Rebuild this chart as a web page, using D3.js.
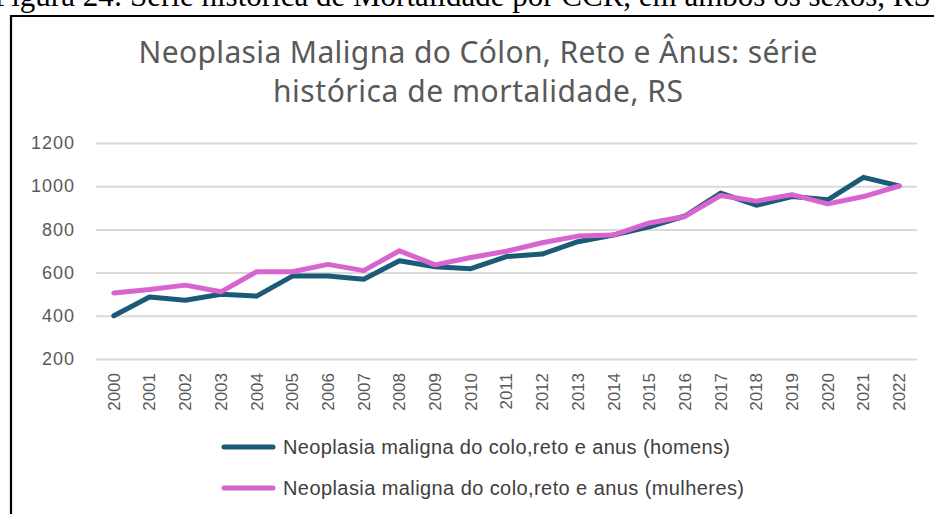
<!DOCTYPE html>
<html lang="pt">
<head>
<meta charset="UTF-8">
<title>Neoplasia Maligna do Cólon, Reto e Ânus</title>
<script src="https://cdnjs.cloudflare.com/ajax/libs/d3/7.8.5/d3.min.js"></script>
<style>
  body { margin: 0; background: #fff; }
  svg { display: block; }
</style>
</head>
<body>
<svg id="chart" width="934" height="514"></svg>
<script>
const years = ["2000","2001","2002","2003","2004","2005","2006","2007","2008","2009","2010",
  "2011","2012","2013","2014","2015","2016","2017","2018","2019","2020","2021","2022"];
const homens = [400, 487, 472, 500, 491, 584, 584, 569, 655, 627, 618,
  674, 686, 743, 774, 812, 862, 968, 912, 952, 937, 1041, 1001];
const mulheres = [506, 522, 542, 511, 604, 604, 638, 609, 701, 636, 670,
  699, 738, 769, 774, 830, 860, 957, 931, 961, 918, 952, 1001];
const yTicks = [200, 400, 600, 800, 1000, 1200];
const seriesNames = [
  "Neoplasia maligna do colo,reto e anus (homens)",
  "Neoplasia maligna do colo,reto e anus (mulheres)"
];
const colors = ["#1b5b78", "#d865cf"];

const svg = d3.select("#chart");

// caption from the page, cut at the top
svg.append("text")
  .attr("x", -6).attr("y", 6)
  .attr("font-family", "Liberation Serif, Times New Roman, serif")
  .attr("font-size", 31)
  .attr("fill", "#000")
  .text("Figura 24: Série histórica de Mortalidade por CCR, em ambos os sexos, RS");

// frame
svg.append("path")
  .attr("d", "M11,520 L11,16 L940,16")
  .attr("fill", "none").attr("stroke", "#000").attr("stroke-width", 2.2);

const title = svg.append("text")
  .attr("text-anchor", "middle")
  .attr("font-family", "Noto Sans, Open Sans, sans-serif")
  .attr("font-size", 30)
  .attr("fill", "#595959");
title.append("tspan").attr("x", 478).attr("y", 63)
  .attr("textLength", 679)
  .text("Neoplasia Maligna do Cólon, Reto e Ânus: série");
title.append("tspan").attr("x", 478).attr("y", 102)
  .attr("textLength", 410)
  .text("histórica de mortalidade, RS");

const x = d3.scaleBand().domain(years).range([96, 917]);
const y = d3.scaleLinear().domain([200, 1200]).range([359, 143]);

// gridlines
svg.append("g")
  .attr("transform", "translate(96,0)")
  .call(d3.axisLeft(y).tickValues(yTicks).tickSize(-(917 - 96)).tickFormat(""))
  .call(g => g.select(".domain").remove())
  .call(g => g.selectAll("line").attr("stroke", "#d9d9d9").attr("stroke-width", 2));

// y labels
svg.append("g")
  .attr("transform", "translate(96,0)")
  .call(d3.axisLeft(y).tickValues(yTicks).tickSize(0).tickPadding(21).tickFormat(d3.format("d")))
  .call(g => g.select(".domain").remove())
  .call(g => g.selectAll("text")
    .attr("font-family", "Liberation Sans, Arial, sans-serif")
    .attr("font-size", 18).attr("letter-spacing", 1).attr("fill", "#595959"));

// x labels, rotated
svg.append("g")
  .attr("transform", "translate(0,359)")
  .call(d3.axisBottom(x).tickSize(0))
  .call(g => g.select(".domain").remove())
  .call(g => g.selectAll("text")
    .attr("font-family", "Liberation Sans, Arial, sans-serif")
    .attr("font-size", 17).attr("fill", "#595959")
    .attr("text-anchor", "end")
    .attr("transform", "rotate(-90)")
    .attr("x", -14).attr("y", 0).attr("dy", "0.35em"));

const line = d3.line()
  .x((d, i) => x(years[i]) + x.bandwidth() / 2)
  .y(d => y(d));

[homens, mulheres].forEach((s, k) => {
  svg.append("path")
    .datum(s)
    .attr("d", line)
    .attr("fill", "none")
    .attr("stroke", colors[k])
    .attr("stroke-width", 5)
    .attr("stroke-linejoin", "round")
    .attr("stroke-linecap", "round");
});

// legend
const legendWidths = [447, 461];
const legend = svg.append("g");
seriesNames.forEach((name, k) => {
  const ly = 447 + k * 41;
  legend.append("line")
    .attr("x1", 224).attr("x2", 273).attr("y1", ly).attr("y2", ly)
    .attr("stroke", colors[k]).attr("stroke-width", 5).attr("stroke-linecap", "round");
  legend.append("text")
    .attr("x", 283).attr("y", ly).attr("dy", "0.35em")
    .attr("font-family", "Liberation Sans, Arial, sans-serif")
    .attr("font-size", 20).attr("fill", "#404040")
    .attr("textLength", legendWidths[k])
    .text(name);
});
</script>
</body>
</html>
